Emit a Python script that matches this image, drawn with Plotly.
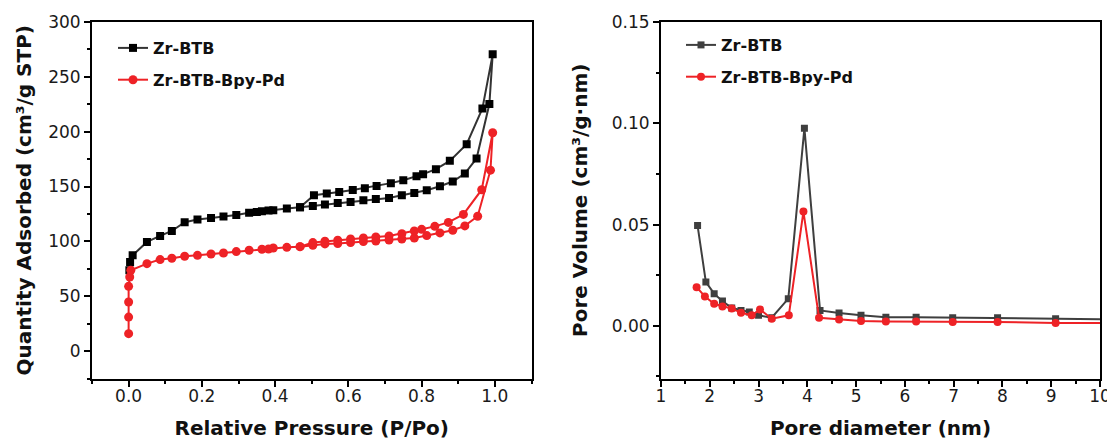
import plotly.graph_objects as go

# ---------------- Data: N2 isotherms (left) ----------------
zr_ads_p = [0.002, 0.004, 0.011, 0.050, 0.086, 0.118, 0.153, 0.188, 0.225, 0.259, 0.294, 0.329,
            0.350, 0.364, 0.382, 0.395, 0.432, 0.468, 0.503, 0.536, 0.571, 0.606, 0.641, 0.675,
            0.711, 0.746, 0.780, 0.814, 0.850, 0.885, 0.918, 0.950, 0.985, 0.994]
zr_ads_q = [73.7, 81.2, 87.3, 99.5, 105.0, 109.5, 117.5, 119.9, 121.4, 122.6, 124.1, 126.0,
            126.9, 127.5, 128.1, 128.4, 130.0, 131.1, 132.3, 133.6, 135.1, 136.0, 137.5, 138.7,
            139.6, 142.1, 144.2, 146.7, 150.3, 154.6, 161.9, 175.6, 225.2, 270.5]
zr_des_p = [0.966, 0.923, 0.877, 0.839, 0.804, 0.786, 0.750, 0.716, 0.677, 0.645, 0.612,
            0.575, 0.541, 0.506, 0.468]
zr_des_q = [221.2, 188.6, 173.4, 165.8, 161.3, 159.4, 155.8, 153.1, 150.6, 148.5, 146.9,
            145.1, 143.6, 142.1, 131.1]

pd_ads_p = [0.000, 0.000, 0.000, 0.000, 0.003, 0.006, 0.050, 0.086, 0.118, 0.153, 0.188, 0.225,
            0.259, 0.294, 0.329, 0.364, 0.382, 0.395, 0.432, 0.468, 0.503, 0.536, 0.571, 0.606,
            0.641, 0.675, 0.711, 0.746, 0.780, 0.814, 0.850, 0.885, 0.918, 0.953, 0.988, 0.994]
pd_ads_q = [15.9, 31.0, 44.7, 59.0, 67.5, 73.7, 79.7, 83.4, 84.6, 86.4, 87.3, 88.5,
            89.4, 90.7, 91.9, 92.8, 93.1, 94.0, 94.6, 95.2, 96.5, 97.7, 98.0, 98.9,
            99.8, 100.4, 101.3, 102.2, 103.1, 105.3, 107.7, 110.2, 114.1, 122.9, 164.9, 199.0]
pd_des_p = [0.964, 0.914, 0.873, 0.836, 0.800, 0.780, 0.746, 0.711, 0.675, 0.641, 0.606,
            0.571, 0.536, 0.503, 0.468]
pd_des_q = [147.1, 124.6, 117.3, 113.7, 111.0, 109.5, 107.0, 105.0, 104.0, 103.1, 102.2,
            101.0, 100.1, 98.9, 95.2]

# ---------------- Data: pore size distribution (right) ----------------
zr_d = [1.75, 1.92, 2.09, 2.26, 2.45, 2.64, 2.81, 3.00, 3.27, 3.61, 3.94, 4.26, 4.65,
        5.10, 5.61, 6.23, 6.98, 7.90, 9.09, 10.40]
zr_v = [0.0495, 0.0216, 0.0159, 0.0122, 0.0088, 0.0076, 0.0068, 0.0052, 0.0040, 0.0134,
        0.0976, 0.0076, 0.0063, 0.0052, 0.0043, 0.0043, 0.0040, 0.0040, 0.0035, 0.0031]
pd_d = [1.73, 1.90, 2.09, 2.26, 2.45, 2.64, 2.86, 3.03, 3.27, 3.62, 3.92, 4.24, 4.65,
        5.10, 5.61, 6.23, 6.98, 7.90, 9.09, 10.40]
pd_v = [0.0191, 0.0145, 0.0109, 0.0096, 0.0085, 0.0065, 0.0052, 0.0081, 0.0035, 0.0052,
        0.0564, 0.0040, 0.0031, 0.0024, 0.0022, 0.0022, 0.0019, 0.0019, 0.0014, 0.0014]

names = ["Zr-BTB", "Zr-BTB-Bpy-Pd"]

BLACK_LINE = "#333333"
GRAY = "#3f3f3f"
RED = "#ee2226"
FONT = "DejaVu Sans"

fig = go.Figure()

fig.add_trace(go.Scatter(
    x=zr_ads_p + zr_des_p, y=zr_ads_q + zr_des_q, name=names[0], mode="lines+markers",
    line=dict(color=BLACK_LINE, width=2),
    marker=dict(symbol="square", size=8, color="#000000"),
    xaxis="x", yaxis="y", legend="legend", legendgroup="a1"))
fig.add_trace(go.Scatter(
    x=pd_ads_p + pd_des_p, y=pd_ads_q + pd_des_q, name=names[1], mode="lines+markers",
    line=dict(color=RED, width=2),
    marker=dict(symbol="circle", size=9, color=RED),
    xaxis="x", yaxis="y", legend="legend", legendgroup="a2"))

fig.add_trace(go.Scatter(
    x=zr_d, y=zr_v, name=names[0], mode="lines+markers",
    line=dict(color=GRAY, width=2),
    marker=dict(symbol="square", size=7, color=GRAY),
    xaxis="x2", yaxis="y2", legend="legend2", legendgroup="b1"))
fig.add_trace(go.Scatter(
    x=pd_d, y=pd_v, name=names[1], mode="lines+markers",
    line=dict(color=RED, width=2),
    marker=dict(symbol="circle", size=8, color=RED),
    xaxis="x2", yaxis="y2", legend="legend2", legendgroup="b2"))

W, H = 1115, 448
OFF = 8  # page body margin offset
tickfont = dict(family=FONT, size=17, color="#1a1a1a")
titlefont = dict(family=FONT, size=20, color="#111111", weight="bold")


def px_x(p):
    return (p - OFF) / W


def px_y(p):
    return 1 - (p - OFF) / H


def axis_common():
    return dict(
        showline=True, linecolor="black", linewidth=2, mirror=True,
        ticks="outside", ticklen=6, tickwidth=2, tickcolor="black",
        showgrid=False, zeroline=False, tickfont=tickfont, automargin=False,
    )


y_dom = [px_y(378.5), px_y(22)]

fig.update_layout(
    width=W, height=H,
    margin=dict(l=0, r=0, t=0, b=0, autoexpand=False),
    paper_bgcolor="white", plot_bgcolor="white",
    font=dict(family=FONT),
    xaxis=dict(**axis_common(), domain=[px_x(92), px_x(531.5)], range=[-0.1, 1.1],
               tick0=0, dtick=0.2, tickformat=".1f", ticklabelstandoff=-5,
               minor=dict(ticks="outside", ticklen=3.5, tickwidth=2, tickcolor="black", dtick=0.1, tick0=0),
               title=dict(text="Relative Pressure (P/Po)", font=titlefont, standoff=16),
               anchor="y"),
    yaxis=dict(**axis_common(), domain=y_dom, range=[-25, 300], tick0=0, dtick=50,
               minor=dict(ticks="outside", ticklen=3.5, tickwidth=2, tickcolor="black", dtick=25, tick0=0),
               title=dict(text="Quantity Adsorbed (cm³/g STP)", font=titlefont, standoff=11),
               anchor="x"),
    xaxis2=dict(**axis_common(), domain=[px_x(661), px_x(1100)], range=[1, 10], tick0=1, dtick=1,
                ticklabelstandoff=-5,
                minor=dict(ticks="outside", ticklen=3.5, tickwidth=2, tickcolor="black", dtick=0.5, tick0=1),
                title=dict(text="Pore diameter (nm)", font=titlefont, standoff=16),
                anchor="y2"),
    yaxis2=dict(**axis_common(), domain=y_dom, range=[-0.026, 0.15], tick0=0, dtick=0.05,
                tickformat=".2f",
                minor=dict(ticks="outside", ticklen=3.5, tickwidth=2, tickcolor="black", dtick=0.025, tick0=0),
                title=dict(text="Pore Volume (cm³/g·nm)", font=titlefont, standoff=19),
                anchor="x2"),
    legend=dict(x=px_x(113), y=px_y(31), xanchor="left", yanchor="top",
                bgcolor="rgba(0,0,0,0)", borderwidth=0,
                font=dict(family=FONT, size=16, color="#111111", weight="bold"),
                tracegroupgap=8, traceorder="grouped"),
    legend2=dict(x=px_x(681), y=px_y(28), xanchor="left", yanchor="top",
                 bgcolor="rgba(0,0,0,0)", borderwidth=0,
                 font=dict(family=FONT, size=16, color="#111111", weight="bold"),
                 tracegroupgap=8, traceorder="grouped"),
    showlegend=True,
)

fig.write_html("out.html")
